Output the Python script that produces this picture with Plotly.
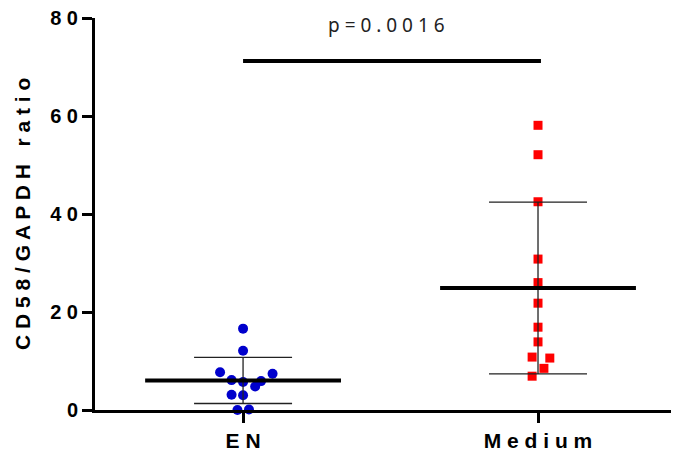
import numpy as np
import plotly.graph_objects as go

categories = ["EN", "Medium"]
en_values = [16.6, 12.1, 7.7, 7.4, 6.1, 5.7, 5.9, 4.8, 3.1, 3.0, 0.0, 0.1]
en_jitter = [0.0, 0.0, -0.078, 0.10, -0.039, 0.0, 0.061, 0.041, -0.039, 0.0, -0.019, 0.02]
med_values = [58.1, 52.1, 42.5, 30.8, 26.0, 21.8, 16.9, 13.9, 10.8, 10.6, 8.5, 6.9]
med_jitter = [0.0, 0.0, 0.0, 0.0, 0.0, 0.0, 0.0, 0.0, -0.02, 0.04, 0.02, -0.02]
y_ticks = [0, 20, 40, 60, 80]
p_text = "p=0.0016"
y_title = "CD58/GAPDH ratio"
bracket_y = 71.2


def spaced(s, sep=" "):
    return sep.join(list(s))


FONT = "Liberation Sans, Arial, sans-serif"
fig = go.Figure()

groups = [
    (en_values, en_jitter, "circle", "#0000CC", 10),
    (med_values, med_jitter, "square", "#FF0000", 9),
]
for i, (vals, jit, sym, col, sz) in enumerate(groups):
    xs = [i + j for j in jit]
    fig.add_trace(go.Scatter(
        x=xs, y=vals, mode="markers", cliponaxis=False,
        marker=dict(symbol=sym, color=col, size=sz, line=dict(width=0)),
        showlegend=False, hoverinfo="y"))

for i, (vals, jit, sym, col, sz) in enumerate(groups):
    m = float(np.mean(vals))
    sd = float(np.std(vals, ddof=1))
    fig.add_trace(go.Scatter(
        x=[i], y=[m], mode="markers", cliponaxis=False,
        marker=dict(size=1, color="rgba(0,0,0,0)"),
        error_y=dict(type="data", array=[sd], visible=True,
                     color="#222", thickness=1.3, width=49),
        showlegend=False, hoverinfo="skip"))
    fig.add_trace(go.Scatter(
        x=[i - 0.332, i + 0.332], y=[m, m], mode="lines", cliponaxis=False,
        line=dict(color="black", width=4), showlegend=False, hoverinfo="skip"))

# significance bracket
fig.add_trace(go.Scatter(
    x=[0, 1.01], y=[bracket_y, bracket_y], mode="lines", cliponaxis=False,
    line=dict(color="black", width=4), showlegend=False, hoverinfo="skip"))

fig.add_annotation(x=0.485, y=78.6, xref="x", yref="y", text=spaced(p_text),
                   showarrow=False, font=dict(family="Noto Sans, sans-serif", size=19, color="#222"),
                   xanchor="center", yanchor="middle")

fig.add_annotation(x=-0.125, y=0.5, xref="paper", yref="paper",
                   text="<b>" + spaced(y_title) + "</b>", textangle=-90,
                   showarrow=False, font=dict(family=FONT, size=21, color="black"),
                   xanchor="center", yanchor="middle")

# the page body has an 8px default margin, so the figure is sized to end at the window edge
fig.update_layout(
    width=671, height=449,
    margin=dict(l=87, r=0, t=10, b=47, autoexpand=False),
    plot_bgcolor="white", paper_bgcolor="white",
    xaxis=dict(range=[-0.502, 1.478], showgrid=False, zeroline=False, automargin=False,
               showline=True, linecolor="black", linewidth=3, ticklabeloverflow="allow",
               ticks="outside", ticklen=10, tickwidth=3, tickcolor="black",
               tickvals=[0, 1], ticktext=["<b>" + spaced(c) + "</b>" for c in categories],
               tickfont=dict(family=FONT, size=21, color="black")),
    yaxis=dict(range=[0, 80], showgrid=False, zeroline=False, automargin=False,
               showline=True, linecolor="black", linewidth=3, ticklabeloverflow="allow",
               ticks="outside", ticklen=10, tickwidth=3, tickcolor="black",
               tickvals=y_ticks, ticktext=["<b>" + spaced(str(t)) + "</b>" for t in y_ticks],
               tickfont=dict(family=FONT, size=20, color="black")),
)

fig.write_html("out.html")
